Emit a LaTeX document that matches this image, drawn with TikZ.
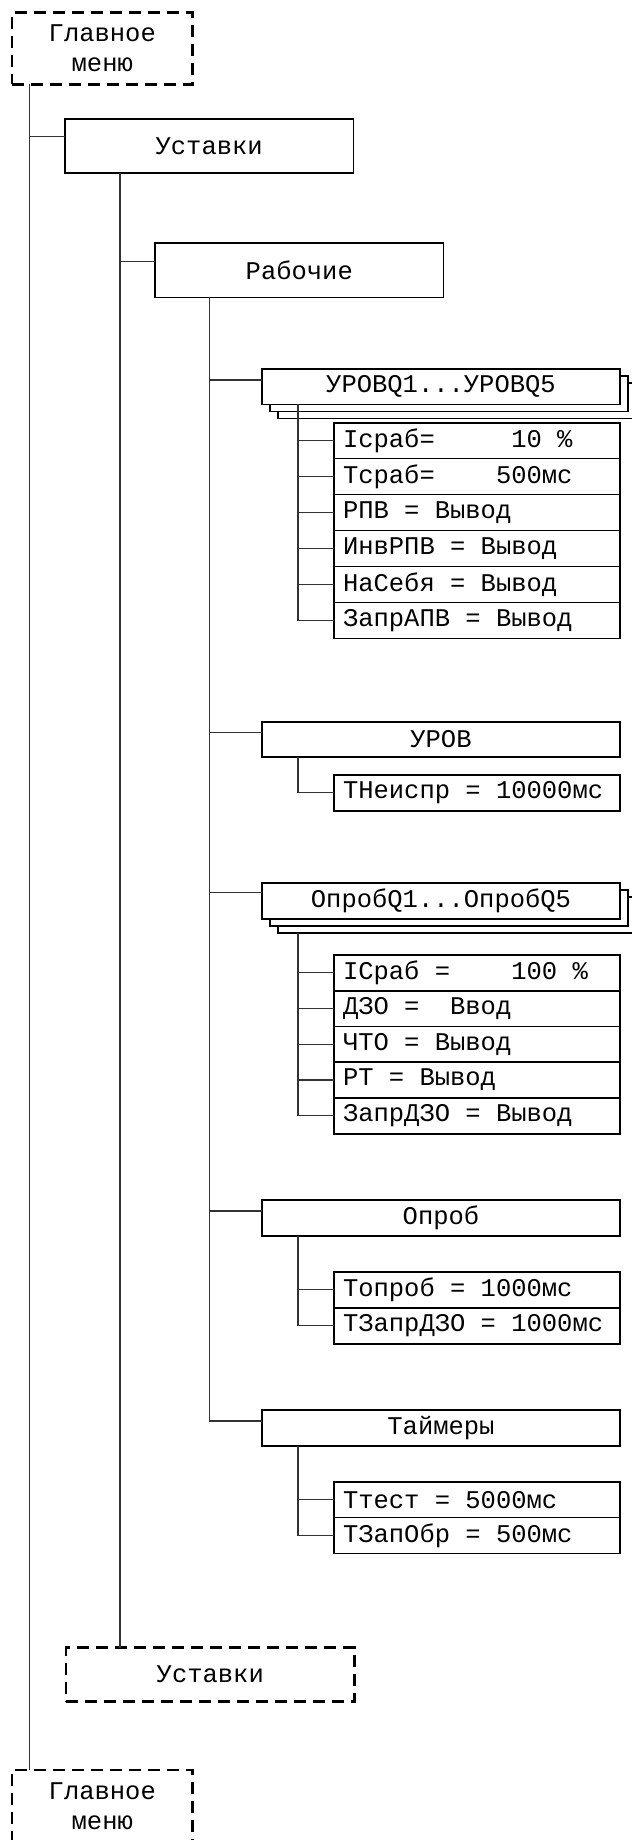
\documentclass[tikz,border=0pt]{standalone}
\usepackage{fontspec}
\setmainfont{Liberation Mono}
\newcommand{\monosize}{\fontsize{25.5}{30}\selectfont}
\newcommand{\monosp}{\hspace*{0.6em}}
\begin{document}
\begin{tikzpicture}[x=1pt,y=-1pt,
  every node/.style={inner sep=0pt, outer sep=0pt, font=\monosize, align=center},
  box/.style={draw=black, line width=1.6pt, fill=white},
  dbox/.style={draw=black, line width=2.6pt, dash pattern=on 12pt off 7pt, fill=white},
  conn/.style={draw=black!80, line width=1.2pt},
  wide/.style={box, minimum width=358pt, minimum height=35.5pt},
  row/.style={box, minimum width=286pt, minimum height=35.9pt, text width=268pt, align=left},
]
\path[use as bounding box] (0,0) rectangle (632,1840);
\clip (0,0) rectangle (632,1840);

% columns
\coordinate (c0) at (29.5,0);
\coordinate (c1) at (120,0);
\coordinate (c2) at (209.5,0);
\coordinate (c3) at (298,0);

% top level
\node[dbox, minimum width=180.7pt, minimum height=71.6pt] (gm1) at (102.3,48.5) {Главное\\меню};
\node[box, minimum width=288.4pt, minimum height=54pt] (ust1) at (209.2,146) {Уставки};
\node[box, minimum width=288.7pt, minimum height=54.3pt] (rab) at (299.3,270.2) {Рабочие};

% UROVQ stack
\node[wide] (uq3) at (457,400.6) {};
\node[wide] (uq2) at (449,393.6) {};
\node[wide] (uq) at (441,386.6) {УРОВQ1...УРОВQ5};
\node[row] (u1) at (477,440.7) {Iсраб=\monosp\monosp\monosp\monosp\monosp10\monosp\%};
\node[row] (u2) at (477,476.6) {Тсраб=\monosp\monosp\monosp\monosp500мс};
\node[row] (u3) at (477,512.6) {РПВ\monosp=\monosp Вывод};
\node[row] (u4) at (477,548.5) {ИнвРПВ\monosp=\monosp Вывод};
\node[row] (u5) at (477,584.4) {НаСебя\monosp=\monosp Вывод};
\node[row] (u6) at (477,620.4) {ЗапрАПВ\monosp=\monosp Вывод};

% UROV
\node[wide, minimum height=35pt] (urov) at (441,739.2) {УРОВ};
\node[row, minimum height=35.7pt] (tn) at (477,792.85) {ТНеиспр\monosp=\monosp 10000мс};

% Oprob stack
\node[wide, minimum height=36.3pt] (oq3) at (457,914.85) {};
\node[wide, minimum height=36.3pt] (oq2) at (449,907.85) {};
\node[wide, minimum height=36.3pt] (oq) at (441,900.85) {ОпробQ1...ОпробQ5};
\node[row, minimum height=35.8pt] (o1) at (477,972.85) {IСраб\monosp=\monosp\monosp\monosp\monosp100\monosp\%};
\node[row, minimum height=35.8pt] (o2) at (477,1008.75) {ДЗО\monosp=\monosp\monosp Ввод};
\node[row, minimum height=35.8pt] (o3) at (477,1044.5) {ЧТО\monosp=\monosp Вывод};
\node[row, minimum height=35.8pt] (o4) at (477,1080) {РТ\monosp=\monosp Вывод};
\node[row, minimum height=35.8pt] (o5) at (477,1115.85) {ЗапрДЗО\monosp=\monosp Вывод};

% Oprob
\node[wide] (opr) at (441,1218) {Опроб};
\node[row, minimum height=36pt] (p1) at (477,1289.7) {Топроб\monosp=\monosp 1000мс};
\node[row, minimum height=36pt] (p2) at (477,1325.85) {ТЗапрДЗО\monosp=\monosp 1000мс};

% Timers
\node[wide, minimum height=36pt] (taim) at (441,1428) {Таймеры};
\node[row, minimum height=35.8pt] (t1) at (477,1499.7) {Ттест\monosp=\monosp 5000мс};
\node[row, minimum height=35.8pt] (t2) at (477,1535.5) {ТЗапОбр\monosp=\monosp 500мс};

% bottom
\node[dbox, minimum width=288.7pt, minimum height=53.6pt] (ust2) at (210.3,1674.5) {Уставки};
\node[dbox, minimum width=180.7pt, minimum height=71.6pt] (gm2) at (102.3,1805.8) {Главное\\меню};

% connectors
\draw[conn] (c0 |- gm1.south) -- (c0 |- gm2.north);
\draw[conn] (c0 |- gm1.south) |- ([yshift=9.3pt]ust1.west);
\draw[conn] (c1 |- ust1.south) -- (c1 |- ust2.north);
\draw[conn] (c1 |- ust1.south) |- ([yshift=9pt]rab.west);
\draw[conn] (c2 |- rab.south) |- ([yshift=6.6pt]uq.west);
\draw[conn] (c2 |- rab.south) |- ([yshift=6.9pt]urov.west);
\draw[conn] (c2 |- rab.south) |- ([yshift=8.3pt]oq.west);
\draw[conn] (c2 |- rab.south) |- ([yshift=7pt]opr.west);
\draw[conn] (c2 |- rab.south) |- ([yshift=7pt]taim.west);
\foreach \r in {u1,u2,u3,u4,u5,u6}{\draw[conn] (c3 |- uq.south) |- (\r.west);}
\draw[conn] (c3 |- urov.south) |- (tn.west);
\foreach \r in {o1,o2,o3,o4,o5}{\draw[conn] (c3 |- oq3.south) |- (\r.west);}
\foreach \r in {p1,p2}{\draw[conn] (c3 |- opr.south) |- (\r.west);}
\foreach \r in {t1,t2}{\draw[conn] (c3 |- taim.south) |- (\r.west);}
\end{tikzpicture}
\end{document}
